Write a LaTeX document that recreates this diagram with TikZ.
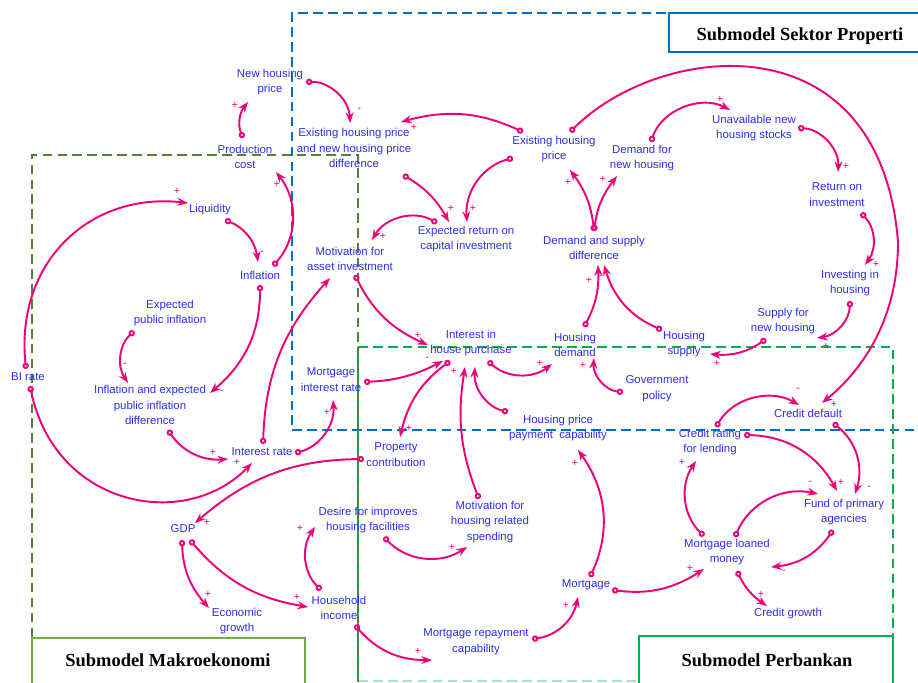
\documentclass[tikz,border=0pt]{standalone}
\usepackage{fontspec}
\usepackage{xcolor}
\usepackage{tikz}
\usetikzlibrary{arrows.meta,calc}
\newfontfamily\varfont{Liberation Sans}
\newfontfamily\titlefont{Liberation Serif}
\definecolor{vartext}{RGB}{45,45,245}
\definecolor{linkpink}{RGB}{240,0,120}
\definecolor{propblue}{RGB}{0,112,192}
\definecolor{makrogreen}{RGB}{84,130,53}
\definecolor{makrotitle}{RGB}{112,173,71}
\definecolor{bankgreen}{RGB}{0,176,80}

\begin{document}
\begin{tikzpicture}[
    x=0.02cm, y=0.02cm,
    var/.style={text=vartext, font=\varfont\fontsize{6.5}{9}\selectfont, align=center, inner sep=1pt},
    lnk/.style={draw=linkpink, line width=1.1pt, {Circle[open,length=3.6pt,width=3.6pt]}-{Stealth[length=6pt,width=4.5pt]}},
    pol/.style={text=linkpink, font=\varfont\fontsize{6}{7}\selectfont, inner sep=0pt},
    region/.style={line width=1.2pt, dash pattern=on 5.5pt off 3pt},
    titlebox/.style={line width=1.2pt, fill=white},
    titletext/.style={font=\titlefont\bfseries\fontsize{10.5}{12}\selectfont}
]
\useasboundingbox (0,0) rectangle (918,682);

% Submodel regions
\draw[region, propblue] (920,669) -- (292,669) -- (292,252) -- (920,252);
\draw[bankgreen, line width=1.2pt] (358,0) -- (358,335);
\draw[region, bankgreen] (358,335) -- (893,335) -- (893,0);
\draw[region, bankgreen!35] (358,1) -- (893,1);
\draw[region, makrogreen] (32,0) -- (32,527) -- (358,527) -- (358,0);

\draw[titlebox, draw=propblue] (669,630) rectangle (922,669);
\node[titletext] (tsektor) at (800,646) {Submodel Sektor Properti};
\draw[titlebox, draw=makrotitle] (32,-2) rectangle (305,44);
\node[titletext] (tmakro) at (168,22) {Submodel Makroekonomi};
\draw[titlebox, draw=bankgreen] (639,-2) rectangle (893,46);
\node[titletext] (tbank) at (767,22) {Submodel Perbankan};

% Variables
\node[var] (newprice) at (270,600) {New housing\\price};
\node[var] (prodcost) at (245,525) {Production\\cost};
\node[var] (exdiff) at (354,534) {Existing housing price\\and new housing price\\difference};
\node[var] (exprice) at (554,533) {Existing housing\\price};
\node[var] (demnew) at (642,524) {Demand for\\new housing};
\node[var] (unavail) at (754,554) {Unavailable new\\housing stocks};
\node[var] (roi) at (837,487) {Return on\\investment};
\node[var] (liquidity) at (210,472) {Liquidity};
\node[var] (exret) at (466,443) {Expected return on\\capital investment};
\node[var] (dsdiff) at (594,434) {Demand and supply\\difference};
\node[var] (motivasset) at (350,423) {Motivation for\\asset investment};
\node[var] (inflation) at (260,407) {Inflation};
\node[var] (invhousing) at (850,399) {Investing in\\housing};
\node[var] (exppub) at (170,369) {Expected\\public inflation};
\node[var] (supnew) at (783,361) {Supply for\\new housing};
\node[var] (interest) at (471,339) {Interest in\\house purchase};
\node[var] (hdemand) at (575,337) {Housing\\demand};
\node[var] (hsupply) at (684,338) {Housing\\supply};
\node[var] (birate) at (28,305) {BI rate};
\node[var] (mortrate) at (331,302) {Mortgage\\interest rate};
\node[var] (govpol) at (657,293) {Government\\policy};
\node[var] (infdiff) at (150,277) {Inflation and expected\\public inflation\\difference};
\node[var] (creditdef) at (808,269) {Credit default};
\node[var] (hpcap) at (558,254) {Housing price\\payment\ \ capability};
\node[var] (creditrating) at (710,240) {Credit rating\\for lending};
\node[var] (intrate) at (262,230) {Interest rate};
\node[var] (propcontrib) at (396,227) {Property\\contribution};
\node[var] (gdp) at (183,153) {GDP};
\node[var] (desire) at (368,162) {Desire for improves\\housing facilities};
\node[var] (motivhouse) at (490,160) {Motivation for\\housing related\\spending};
\node[var] (fund) at (844,170) {Fund of primary\\agencies};
\node[var] (mortloaned) at (727,130) {Mortgage loaned\\money};
\node[var] (mortgage) at (586,97) {Mortgage};
\node[var] (econ) at (237,61) {Economic\\growth};
\node[var] (hhincome) at (339,74) {Household\\income};
\node[var] (creditgrowth) at (788,68) {Credit growth};
\node[var] (mortrepay) at (476,40) {Mortgage repayment\\capability};

% Property sector links
\draw[lnk] ($(prodcost)+(-2,19)$) to[bend left=30] node[pol, at end, shift={(-13,-3)}] {+} ($(newprice)+(-22,-20)$);
\draw[lnk] ($(newprice)+(36,0)$) to[bend left=45] node[pol, at end, shift={(9,13)}] {-} ($(exdiff)+(-4,25)$);
\draw[lnk] ($(exprice)+(-31,17)$) to[bend right=20] node[pol, at end, shift={(13,-5)}] {+} ($(exdiff)+(47,26)$);
\draw[lnk] ($(exdiff)+(49,-27)$) to[bend left=15] node[pol, at end, shift={(2,14)}] {+} ($(exret)+(-17,17)$);
\draw[lnk] ($(exprice)+(-41,-9)$) to[bend right=40] node[pol, at end, shift={(6,14)}] {+} ($(exret)+(1,17)$);
\draw[lnk] ($(exret)+(-29,16)$) to[bend right=45] node[pol, at end, shift={(11,4)}] {+} ($(motivasset)+(22,19)$);
\draw[lnk] ($(dsdiff)+(0,17)$) to[bend right=15] node[pol, at end, shift={(-2,-12)}] {+} ($(exprice)+(16,-21)$);
\draw[lnk] ($(dsdiff)+(0,17)$) to[bend left=15] node[pol, at end, shift={(-14,-3)}] {+} ($(demnew)+(-25,-18)$);
\draw[lnk] ($(demnew)+(9,16)$) to[bend left=50] node[pol, at end, shift={(-10,11)}] {+} ($(unavail)+(-24,18)$);
\draw[lnk] ($(unavail)+(44,0)$) to[bend left=45] node[pol, at end, shift={(8,6)}] {+} ($(roi)+(1,23)$);
\draw[lnk] ($(roi)+(24,-18)$) to[bend left=40] node[pol, at end, shift={(11,1)}] {+} ($(invhousing)+(15,18)$);
\draw[lnk] ($(invhousing)+(0,-18)$) to[bend left=40] node[pol, at end, shift={(9,-8)}] {+} ($(supnew)+(34,-17)$);
\draw[lnk] ($(supnew)+(-17,-18)$) to[bend left=20] node[pol, at end, shift={(7,-9)}] {+} ($(hsupply)+(26,-10)$);
\draw[lnk] ($(hsupply)+(-22,14)$) to[bend left=25] node[pol, at end, shift={(-3,-12)}] {-} ($(dsdiff)+(10,-17)$);
\draw[lnk] ($(hdemand)+(9,18)$) to[bend right=15] node[pol, at end, shift={(-9,-15)}] {+} ($(dsdiff)+(4,-17)$);
\draw[lnk] ($(exprice)+(16,17)$) .. controls (660,640) and (880,665) .. (898,440)
    .. controls (898,360) and (860,310) .. ($(creditdef)+(14,10)$) node[pol, pos=1, shift={(12,-1)}] {+};

% Macroeconomic links
\draw[lnk] ($(liquidity)+(15,-10)$) to[bend left=30] node[pol, at end, shift={(4,9)}] {-} ($(inflation)+(-2,13)$);
\draw[lnk] ($(birate)+(-2,8)$) .. controls (15,420) and (90,490) .. ($(liquidity)+(-22,7)$) node[pol, pos=1, shift={(-11,12)}] {+};
\draw[lnk] ($(inflation)+(13,9)$) to[bend right=40] node[pol, at end, shift={(1,-12)}] {+} ($(prodcost)+(31,-15)$);
\draw[lnk] ($(inflation)+(0,-10)$) to[bend left=25] node[pol, at end, shift={(12,1)}] {-} ($(infdiff)+(60,12)$);
\draw[lnk] ($(exppub)+(-36,-18)$) to[bend right=40] node[pol, at end, shift={(-3,18)}] {-} ($(infdiff)+(-22,22)$);
\draw[lnk] ($(infdiff)+(18,-25)$) to[bend right=30] node[pol, at end, shift={(-15,7)}] {+} ($(intrate)+(-34,-7)$);
\draw[lnk] ($(intrate)+(1,8)$) to[bend left=20] ($(motivasset)+(-20,-19)$);
\draw[lnk] ($(birate)+(2,-9)$) .. controls (55,175) and (185,150) .. ($(intrate)+(-10,-11)$) node[pol, pos=1, shift={(-15,1)}] {+};
\draw[lnk] ($(intrate)+(33,-1)$) to[bend right=40] node[pol, at end, shift={(-6,-12)}] {+} ($(mortrate)+(2,-20)$);
\draw[lnk] ($(propcontrib)+(-32,-4)$) to[bend right=20] node[pol, at end, shift={(12,1)}] {+} ($(gdp)+(12,6)$);
\draw[lnk] ($(gdp)+(-1,-11)$) to[bend right=20] node[pol, at end, shift={(-1,14)}] {+} ($(econ)+(-28,13)$);
\draw[lnk] ($(gdp)+(7,-11)$) to[bend right=20] node[pol, at end, shift={(-11,10)}] {+} ($(hhincome)+(-31,1)$);
\draw[lnk] ($(hhincome)+(-18,18)$) to[bend left=40] node[pol, at end, shift={(-15,-1)}] {+} ($(desire)+(-53,-7)$);

% Housing demand links
\draw[lnk] ($(motivasset)+(5,-16)$) to[bend right=20] node[pol, at end, shift={(-10,10)}] {+} ($(interest)+(-43,-2)$);
\draw[lnk] ($(mortrate)+(33,-2)$) to[bend right=12] node[pol, at end, shift={(-16,2)}] {-} ($(interest)+(-28,-18)$);
\draw[lnk] ($(interest)+(-21,-18)$) to[bend right=20] node[pol, at end, shift={(9,9)}] {+} ($(propcontrib)+(4,18)$);
\draw[lnk] ($(motivhouse)+(-11,23)$) to[bend left=15] node[pol, at end, shift={(-11,-4)}] {+} ($(interest)+(-6,-24)$);
\draw[lnk] ($(hpcap)+(-50,16)$) to[bend left=40] ($(interest)+(4,-24)$);
\draw[lnk] ($(interest)+(17,-18)$) to[bend right=40] node[pol, at end, shift={(-12,1)}] {+} ($(hdemand)+(-23,-19)$);
\draw[lnk] ($(govpol)+(-34,-3)$) to[bend left=45] node[pol, at end, shift={(-11,-7)}] {+} ($(hdemand)+(19,-13)$);
\draw[lnk] ($(desire)+(16,-17)$) to[bend right=40] node[pol, at end, shift={(-15,0)}] {+} ($(motivhouse)+(-23,-25)$);
\draw[lnk] ($(hhincome)+(16,-17)$) to[bend right=25] node[pol, at end, shift={(-14,9)}] {+} ($(mortrepay)+(-44,-18)$);

% Banking links
\draw[lnk] ($(mortrepay)+(56,3)$) to[bend right=35] node[pol, at end, shift={(-12,-8)}] {+} ($(mortgage)+(-8,-12)$);
\draw[lnk] ($(mortgage)+(4,8)$) to[bend right=30] node[pol, at end, shift={(-3,-13)}] {+} ($(hpcap)+(20,-22)$);
\draw[lnk] ($(mortgage)+(26,-5)$) to[bend right=20] node[pol, at end, shift={(-14,1)}] {+} ($(mortloaned)+(-23,-17)$);
\draw[lnk] ($(mortloaned)+(-23,16)$) to[bend left=40] node[pol, at end, shift={(-14,-1)}] {+} ($(creditrating)+(-14,-19)$);
\draw[lnk] ($(mortloaned)+(8,15)$) to[bend left=40] node[pol, at end, shift={(-8,11)}] {-} ($(fund)+(-26,18)$);
\draw[lnk] ($(fund)+(-11,-18)$) to[bend left=25] node[pol, at end, shift={(13,-5)}] {-} ($(mortloaned)+(44,-15)$);
\draw[lnk] ($(mortloaned)+(10,-19)$) to[bend right=15] node[pol, at end, shift={(-6,12)}] {+} ($(creditgrowth)+(-21,8)$);
\draw[lnk] ($(creditrating)+(6,15)$) to[bend left=45] node[pol, at end, shift={(-1,15)}] {-} ($(creditdef)+(-9,8)$);
\draw[lnk] ($(creditrating)+(34,7)$) to[bend left=30] node[pol, at end, shift={(4,9)}] {+} ($(fund)+(-7,21)$);
\draw[lnk] ($(creditdef)+(25,-10)$) to[bend left=35] node[pol, at end, shift={(14,6)}] {-} ($(fund)+(11,18)$);
\end{tikzpicture}
\end{document}
